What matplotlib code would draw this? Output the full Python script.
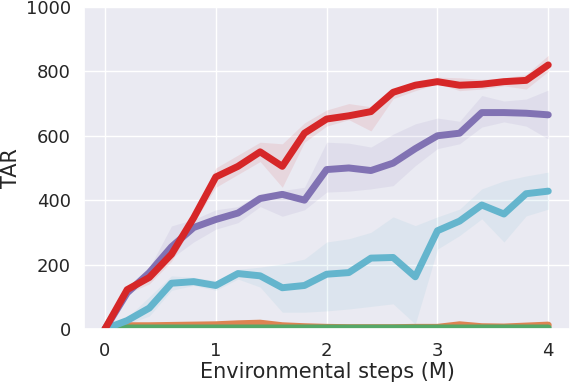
import matplotlib
matplotlib.use("Agg")
import matplotlib.pyplot as plt
import seaborn as sns

steps = [0.0, 0.2, 0.4, 0.6, 0.8, 1.0, 1.2, 1.4, 1.6, 1.8, 2.0,
         2.2, 2.4, 2.6, 2.8, 3.0, 3.2, 3.4, 3.6, 3.8, 4.0]

# mean curves
red_mean = [0, 122, 160, 232, 345, 472, 505, 550, 505, 608, 652,
            662, 675, 735, 757, 768, 757, 760, 768, 772, 820]
red_lo = [0, 110, 140, 210, 330, 440, 480, 520, 440, 580, 630,
          650, 615, 715, 740, 762, 740, 745, 755, 745, 800]
red_hi = [0, 135, 180, 250, 360, 500, 540, 580, 575, 640, 680,
          700, 690, 745, 770, 782, 780, 775, 780, 790, 850]

purple_mean = [0, 112, 175, 255, 315, 340, 360, 405, 418, 400, 495,
               500, 492, 515, 560, 600, 608, 672, 672, 670, 665]
purple_lo = [0, 105, 160, 220, 270, 310, 330, 380, 350, 370, 425,
             428, 435, 445, 507, 560, 575, 627, 643, 630, 590]
purple_hi = [0, 120, 190, 320, 340, 370, 380, 420, 430, 440, 580,
             577, 565, 605, 637, 655, 645, 725, 708, 714, 742]

cyan_mean = [0, 26, 65, 142, 147, 135, 172, 165, 128, 135, 170,
             175, 220, 222, 162, 305, 335, 385, 357, 420, 428]
cyan_lo = [0, 15, 40, 120, 135, 120, 155, 130, 52, 52, 56,
           62, 70, 78, 15, 248, 290, 342, 270, 351, 372]
cyan_hi = [0, 35, 100, 165, 160, 150, 185, 192, 202, 217, 270,
           280, 300, 348, 321, 348, 372, 435, 460, 475, 487]

orange_mean = [0, 10, 10, 11, 12, 13, 16, 18, 10, 7, 5,
               4, 4, 4, 5, 5, 13, 7, 6, 9, 12]
orange_lo = [0, 7, 7, 8, 9, 9, 11, 13, 7, 4, 3,
             2, 2, 2, 3, 3, 9, 4, 4, 6, 9]
orange_hi = [0, 14, 14, 15, 16, 18, 21, 23, 14, 10, 7,
             6, 6, 6, 7, 7, 18, 10, 8, 12, 16]

green_mean = [0, 3, 3, 3, 3, 3, 3, 3, 3, 3, 3,
              3, 3, 3, 3, 3, 3, 3, 3, 3, 3]

sns.set_theme(style="darkgrid")
plt.rcParams["font.family"] = ["DejaVu Sans"]

fig = plt.figure(figsize=(5.71, 3.87), dpi=100)
ax = fig.add_axes([0.147, 0.150, 0.852, 0.832])

ax.fill_between(steps, orange_lo, orange_hi, color="#dd8452", alpha=0.2, lw=0)
ax.plot(steps, orange_mean, color="#dd8452", lw=5, solid_capstyle="round")
ax.plot(steps, green_mean, color="#55a868", lw=5, solid_capstyle="round")

series = [
    (cyan_mean, cyan_lo, cyan_hi, "#64b5cd"),
    (purple_mean, purple_lo, purple_hi, "#8172b3"),
    (red_mean, red_lo, red_hi, "#d62728"),
]
for mean, lo, hi, col in series:
    ax.fill_between(steps, lo, hi, color=col, alpha=0.1, lw=0)
    ax.plot(steps, mean, color=col, lw=5, solid_capstyle="round")

ax.set_xlim(-0.19, 4.2)
ax.set_ylim(0, 1000)
ax.set_xticks([0, 1, 2, 3, 4])
ax.set_yticks([0, 200, 400, 600, 800, 1000])
ax.tick_params(labelsize=13)
ax.set_xlabel("Environmental steps (M)", fontsize=15, labelpad=1)
ax.set_ylabel("TAR", fontsize=15, labelpad=3)

fig.savefig("out.png", dpi=100)
